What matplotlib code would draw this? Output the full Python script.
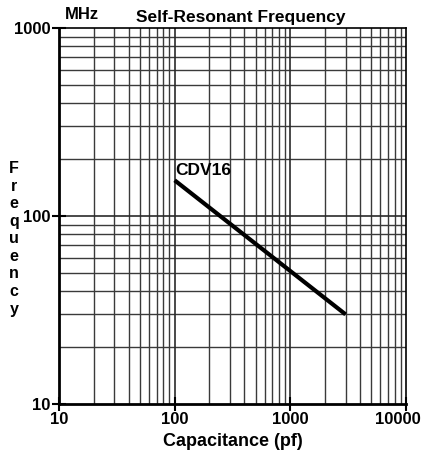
import matplotlib.pyplot as plt
from matplotlib.ticker import FixedLocator, NullFormatter, FixedFormatter
from matplotlib.transforms import ScaledTranslation

# Data
cap_pf = [100, 3000]
freq_mhz = [155, 30]
series_label = "CDV16"

x_ticks = [10, 100, 1000, 10000]
x_tick_labels = ["10", "100", "1000", "10000"]
y_ticks = [10, 100, 1000]
y_tick_labels = ["10", "100", "1000"]

plt.rcParams['font.family'] = ['Liberation Sans', 'DejaVu Sans']
plt.rcParams['font.weight'] = 'bold'

fig = plt.figure(figsize=(4.27, 4.53), dpi=100)
ax = fig.add_axes([0.138, 0.108, 0.813, 0.830])

ax.set_xscale("log")
ax.set_yscale("log")
ax.set_xlim(10, 10000)
ax.set_ylim(10, 1000)

# Grid at every minor decade step
minor_x = [m * 10 ** e for e in range(1, 4) for m in range(2, 10)]
minor_y = [m * 10 ** e for e in range(1, 3) for m in range(2, 10)]
for xv in minor_x:
    ax.axvline(xv, color="#3a3a3a", lw=1.0, zorder=1)
for yv in minor_y:
    ax.axhline(yv, color="#3a3a3a", lw=1.0, zorder=1)
for xv in x_ticks[1:-1]:
    ax.axvline(xv, color="#2a2a2a", lw=1.2, zorder=1)
for yv in y_ticks[1:-1]:
    ax.axhline(yv, color="#2a2a2a", lw=1.2, zorder=1)

ax.xaxis.set_major_locator(FixedLocator(x_ticks))
ax.xaxis.set_major_formatter(FixedFormatter(x_tick_labels))
ax.yaxis.set_major_locator(FixedLocator(y_ticks))
ax.yaxis.set_major_formatter(FixedFormatter(y_tick_labels))
ax.xaxis.set_minor_formatter(NullFormatter())
ax.yaxis.set_minor_formatter(NullFormatter())
ax.tick_params(which="minor", length=0)
ax.tick_params(which="major", direction="inout", length=10, width=1.5,
               labelsize=12, pad=1, colors="black")

# pull the last x label in so it stays inside the figure
last = ax.get_xticklabels()[-1]
last.set_transform(last.get_transform() + ScaledTranslation(-6 / 72, 0, fig.dpi_scale_trans))

for side in ["left", "bottom"]:
    ax.spines[side].set_linewidth(2.0)
for side in ["top", "right"]:
    ax.spines[side].set_linewidth(1.2)

ax.plot(cap_pf, freq_mhz, color="black", lw=3, solid_capstyle="butt", zorder=3)
ax.text(cap_pf[0] * 1.02, freq_mhz[0] * 1.03, series_label, fontsize=12.5,
        fontweight="bold", ha="left", va="bottom", zorder=4)

fig.text(0.563, 0.962, "Self-Resonant Frequency", fontsize=12.5,
         fontweight="bold", ha="center", va="center")
fig.text(0.193, 0.967, "MHz", fontsize=12, fontweight="bold",
         ha="center", va="center")

for i, ch in enumerate("Frequency"):
    fig.text(0.033, 0.628 - i * 0.0388, ch, fontsize=11.5, fontweight="bold",
             ha="center", va="center")

ax.set_xlabel("Capacitance (pf)", fontsize=13, fontweight="bold", labelpad=4)

fig.savefig("out.png", dpi=100)
